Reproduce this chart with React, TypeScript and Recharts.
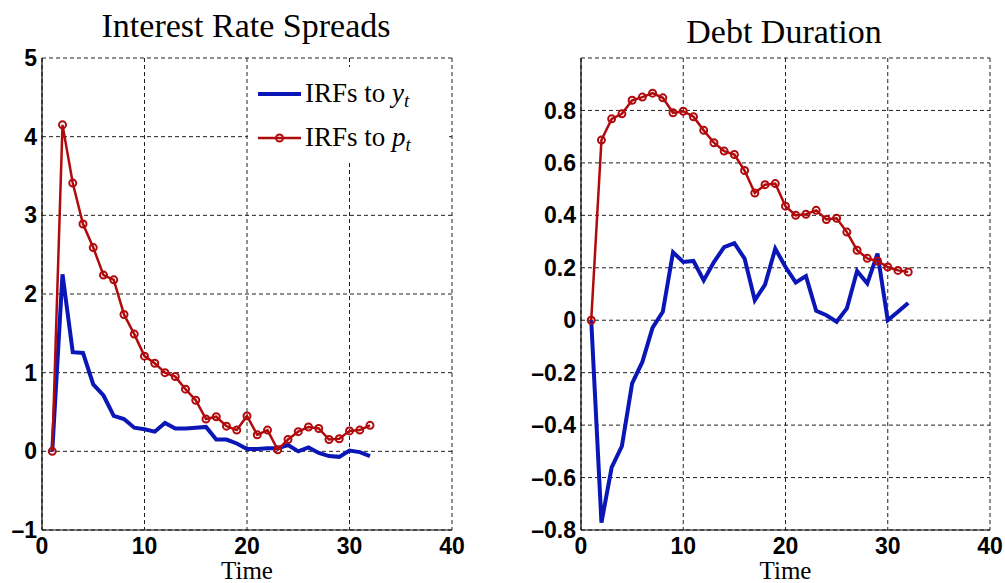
import React from "react";
import { LineChart, Line, XAxis, YAxis, CartesianGrid, Legend } from "recharts";

const TIME = [1, 2, 3, 4, 5, 6, 7, 8, 9, 10, 11, 12, 13, 14, 15, 16, 17, 18, 19, 20, 21, 22, 23, 24, 25, 26, 27, 28, 29, 30, 31, 32];
const SPREAD_Y = [0, 2.25, 1.26, 1.25, 0.85, 0.71, 0.45, 0.41, 0.3, 0.28, 0.25, 0.36, 0.29, 0.29, 0.3, 0.31, 0.15, 0.15, 0.1, 0.03, 0.03, 0.04, 0.04, 0.08, 0.0, 0.05, -0.02, -0.06, -0.07, 0.01, -0.01, -0.06];
const SPREAD_P = [0, 4.15, 3.41, 2.89, 2.59, 2.24, 2.18, 1.74, 1.49, 1.21, 1.12, 1.0, 0.95, 0.79, 0.65, 0.41, 0.44, 0.32, 0.27, 0.45, 0.21, 0.27, 0.02, 0.15, 0.25, 0.31, 0.29, 0.15, 0.16, 0.26, 0.27, 0.33];
const DUR_Y = [0, -0.772, -0.561, -0.48, -0.241, -0.159, -0.028, 0.032, 0.259, 0.222, 0.226, 0.152, 0.222, 0.279, 0.294, 0.235, 0.076, 0.136, 0.273, 0.203, 0.144, 0.168, 0.036, 0.019, -0.006, 0.045, 0.188, 0.14, 0.254, 0.0, 0.032, 0.066];
const DUR_P = [0, 0.687, 0.768, 0.787, 0.839, 0.851, 0.866, 0.848, 0.791, 0.797, 0.776, 0.724, 0.677, 0.645, 0.632, 0.571, 0.485, 0.517, 0.521, 0.435, 0.4, 0.404, 0.419, 0.384, 0.389, 0.336, 0.267, 0.236, 0.226, 0.203, 0.19, 0.184];

const X_TICKS = [0, 10, 20, 30, 40];
const SPREAD_TICKS = [-1, 0, 1, 2, 3, 4, 5];
const DUR_TICKS = [-0.8, -0.6, -0.4, -0.2, 0, 0.2, 0.4, 0.6, 0.8];

const TITLES = ["Interest Rate Spreads", "Debt Duration"];
const X_LABEL = "Time";
const SERIES_NAMES = ["IRFs to ", "IRFs to "];

const BLUE = "#0a16b6";
const RED = "#b00a0c";
const SERIF = "'Liberation Serif', 'Times New Roman', serif";
const SANS = "'Liberation Sans', Arial, sans-serif";

const spreadData = TIME.map((t, i) => ({ t, y: SPREAD_Y[i], p: SPREAD_P[i] }));
const durData = TIME.map((t, i) => ({ t, y: DUR_Y[i], p: DUR_P[i] }));

const fmt = (v: number) => (v < 0 ? "\u2013" : "") + String(Math.abs(Math.round(v * 10) / 10));

const tickStyle = { fill: "#000", fontFamily: SANS, fontWeight: "bold", fontSize: 23 };

const LegendBox = () => (
  <svg width={201} height={93} style={{ display: "block" }}>
    <rect x={0} y={0} width={201} height={93} fill="#fff" />
    <line x1={10} y1={27} x2={53} y2={27} stroke={BLUE} strokeWidth={4} />
    <text x={57} y={35} fontFamily={SERIF} fontSize={27} fill="#000">
      {SERIES_NAMES[0]}
      <tspan fontStyle="italic">y</tspan>
      <tspan fontStyle="italic" fontSize={19} dy={5}>t</tspan>
    </text>
    <line x1={10} y1={71} x2={53} y2={71} stroke={RED} strokeWidth={2.5} />
    <circle cx={31.5} cy={71} r={3.5} fill="none" stroke={RED} strokeWidth={2} />
    <text x={57} y={79} fontFamily={SERIF} fontSize={27} fill="#000">
      {SERIES_NAMES[1]}
      <tspan fontStyle="italic">p</tspan>
      <tspan fontStyle="italic" fontSize={19} dy={5}>t</tspan>
    </text>
  </svg>
);

type PanelProps = {
  left: number;
  width: number;
  yWidth: number;
  marginRight: number;
  data: { t: number; y: number; p: number }[];
  yDomain: [number, number];
  yTicks: number[];
  legend?: boolean;
};

const Panel = ({ left, width, yWidth, marginRight, data, yDomain, yTicks, legend }: PanelProps) => (
  <div style={{ position: "absolute", left, top: 0 }}>
    <LineChart width={width} height={583} data={data} margin={{ top: 58, right: marginRight, bottom: 0, left: 0 }}>
      <CartesianGrid stroke="#222" strokeDasharray="4 3" strokeWidth={1} />
      <XAxis
        dataKey="t"
        type="number"
        domain={[0, 40]}
        ticks={X_TICKS}
        interval={0}
        tickLine={false}
        tickSize={0}
        tickMargin={8}
        height={53}
        axisLine={{ stroke: "#000", strokeWidth: 1.2 }}
        tick={tickStyle}
        label={{ value: X_LABEL, position: "insideBottom", offset: 4, style: { fontFamily: SERIF, fontSize: 25, fill: "#000" } }}
      />
      <YAxis
        type="number"
        domain={yDomain}
        ticks={yTicks}
        interval={0}
        width={yWidth}
        tickLine={false}
        tickSize={0}
        tickMargin={5}
        axisLine={{ stroke: "#000", strokeWidth: 1.2 }}
        tick={tickStyle}
        tickFormatter={fmt}
      />
      {legend ? (
        <Legend
          layout="vertical"
          align="center"
          verticalAlign="middle"
          content={() => <LegendBox />}
          wrapperStyle={{ position: "absolute", left: 248, top: 67, width: 201, height: 93 }}
        />
      ) : null}
      <Line type="linear" dataKey="y" stroke={BLUE} strokeWidth={4} dot={false} isAnimationActive={false} />
      <Line
        type="linear"
        dataKey="p"
        stroke={RED}
        strokeWidth={2.5}
        dot={{ r: 3.5, stroke: RED, strokeWidth: 2, fill: "none" }}
        isAnimationActive={false}
      />
    </LineChart>
  </div>
);

export default function App() {
  return (
    <div style={{ position: "absolute", left: 0, top: 0, width: 1005, height: 583, background: "#fff", overflow: "hidden" }}>
      <Panel left={0} width={500} yWidth={42} marginRight={48} data={spreadData} yDomain={[-1, 5]} yTicks={SPREAD_TICKS} legend />
      <Panel left={520} width={485} yWidth={61} marginRight={15} data={durData} yDomain={[-0.8, 1]} yTicks={DUR_TICKS} />
      <svg width={1005} height={583} style={{ position: "absolute", left: 0, top: 0, pointerEvents: "none" }}>
        <text x={246} y={37} textAnchor="middle" fontFamily={SERIF} fontSize={34} fill="#000">{TITLES[0]}</text>
        <text x={784} y={43} textAnchor="middle" fontFamily={SERIF} fontSize={34} fill="#000">{TITLES[1]}</text>
      </svg>
    </div>
  );
}
